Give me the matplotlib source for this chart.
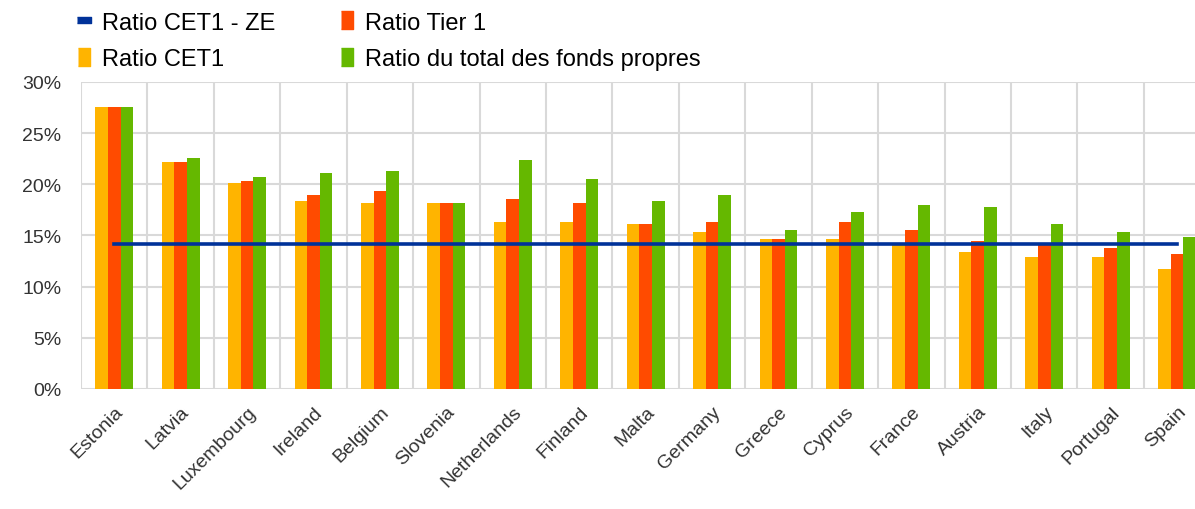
import matplotlib.pyplot as plt
import numpy as np
from matplotlib.lines import Line2D
from matplotlib.ticker import FuncFormatter

plt.rcParams['font.family'] = ['Liberation Sans', 'DejaVu Sans']

countries = ['Estonia', 'Latvia', 'Luxembourg', 'Ireland', 'Belgium', 'Slovenia',
             'Netherlands', 'Finland', 'Malta', 'Germany', 'Greece', 'Cyprus',
             'France', 'Austria', 'Italy', 'Portugal', 'Spain']
cet1 = [27.6, 22.2, 20.1, 18.4, 18.2, 18.2, 16.3, 16.3, 16.1, 15.3, 14.7, 14.7,
        14.1, 13.4, 12.85, 12.85, 11.7]
tier1 = [27.6, 22.2, 20.3, 19.0, 19.3, 18.2, 18.6, 18.2, 16.1, 16.3, 14.7, 16.3,
         15.5, 14.5, 14.2, 13.8, 13.2]
total = [27.6, 22.6, 20.7, 21.1, 21.3, 18.2, 22.4, 20.5, 18.4, 19.0, 15.5, 17.25,
         18.0, 17.8, 16.1, 15.3, 14.9]
cet1_ze = 14.2

c_orange = '#FFB400'
c_red = '#FF4B00'
c_green = '#65B800'
c_blue = '#003299'
c_grid = '#D9D9D9'

fig = plt.figure(figsize=(11.95, 5.1), dpi=100)
ax = fig.add_axes([0.0678, 0.2353, 0.945, 0.602])

x = np.arange(len(countries))
w = 0.19
ax.bar(x - w, cet1, w, color=c_orange, zorder=2)
ax.bar(x, tier1, w, color=c_red, zorder=2)
ax.bar(x + w, total, w, color=c_green, zorder=2)
ax.plot([x[0], x[-1]], [cet1_ze, cet1_ze], color=c_blue, lw=2.6, zorder=3)

ax.set_xlim(-0.5, len(countries) - 0.5)
ax.set_ylim(0, 30)
ax.set_yticks(np.arange(0, 31, 5))
ax.yaxis.set_major_formatter(FuncFormatter(lambda v, p: f'{v:.0f}%'))
ax.set_xticks(x)
ax.set_xticklabels(countries, rotation=45, ha='right', rotation_mode='anchor')
ax.set_xticks(np.arange(-0.5, len(countries)), minor=True)
ax.tick_params(axis='x', which='both', length=0, labelsize=14, pad=10)
ax.tick_params(axis='y', length=0, labelsize=14, pad=14, colors='#333333')
ax.tick_params(axis='x', colors='#333333')
ax.grid(axis='y', color=c_grid, lw=1.5, zorder=0)
ax.grid(axis='x', which='minor', color=c_grid, lw=1.5, zorder=0)
for s in ax.spines.values():
    s.set_visible(False)

vbar = [(-0.35, -0.5), (0.35, -0.5), (0.35, 0.5), (-0.35, 0.5)]
hbar = [(-0.5, -0.21), (0.5, -0.21), (0.5, 0.21), (-0.5, 0.21)]
handles = [
    Line2D([], [], ls='none', marker=hbar, ms=10.5, color=c_blue, label='Ratio CET1 - ZE'),
    Line2D([], [], ls='none', marker=vbar, ms=12.5, color=c_orange, label='Ratio CET1'),
    Line2D([], [], ls='none', marker=vbar, ms=12.5, color=c_red, label='Ratio Tier 1'),
    Line2D([], [], ls='none', marker=vbar, ms=12.5, color=c_green, label='Ratio du total des fonds propres'),
]
fig.legend(handles=handles, ncol=2, loc='upper left', bbox_to_anchor=(0.0644, 0.975),
           frameon=False, fontsize=17, handlelength=0.6, handletextpad=0.45,
           columnspacing=2.75, labelspacing=0.6, borderpad=0, borderaxespad=0)

fig.savefig('out.png', dpi=100)
